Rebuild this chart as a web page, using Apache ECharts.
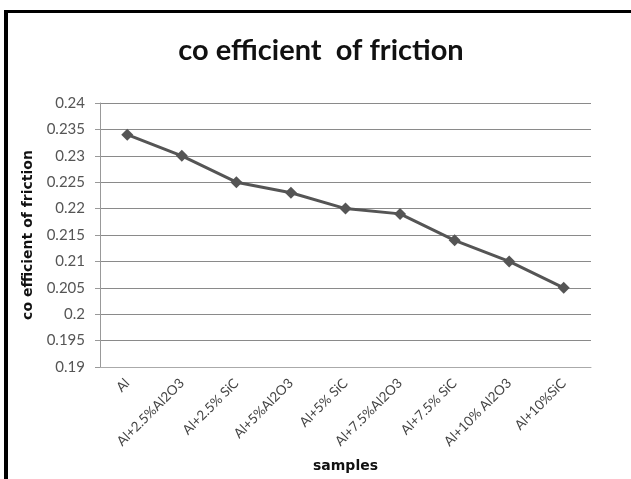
<!DOCTYPE html>
<html><head><meta charset="utf-8">
<script src="https://cdn.jsdelivr.net/npm/echarts@6/dist/echarts.min.js"></script>
<style>html,body{margin:0;padding:0;background:#fff}#c{width:631px;height:479px}</style>
</head><body><div id="c"></div>
<script>
const categories = ['Al','Al+2.5%Al2O3','Al+2.5% SiC','Al+5%Al2O3','Al+5% SiC','Al+7.5%Al2O3','Al+7.5% SiC','Al+10% Al2O3','Al+10%SiC'];
const friction = [0.234, 0.230, 0.225, 0.223, 0.220, 0.219, 0.214, 0.210, 0.205];
const titleText = 'co efficient  of friction';
const yName = 'co efficient of friction';
const xName = 'samples';
const F = 'Lato, "Open Sans", sans-serif';
const chart = echarts.init(document.getElementById('c'), null, {renderer:'canvas'});
chart.setOption({
  animation:false,
  backgroundColor:'#fff',
  title:{text:titleText,left:316,textAlign:'center',top:31,textStyle:{fontFamily:F,fontSize:29,fontWeight:'bold',color:'#111'}},
  graphic:[
    {type:'rect',shape:{x:4,y:10,width:640,height:3},style:{fill:'#000'}},
    {type:'rect',shape:{x:4,y:10,width:4,height:480},style:{fill:'#000'}}
  ],
  grid:{left:100,top:103,width:491,height:264,containLabel:false},
  xAxis:{type:'category',data:categories,boundaryGap:true,
    name:xName,nameLocation:'middle',nameGap:92,
    nameTextStyle:{fontFamily:'"DejaVu Sans", sans-serif',fontSize:14,fontWeight:'bold',color:'#111'},
    axisLine:{lineStyle:{color:'#aaa',width:1}},axisTick:{show:false},
    axisLabel:{rotate:45,interval:0,fontFamily:F,fontSize:13.5,color:'#444',margin:14}},
  yAxis:{type:'value',min:0.19,max:0.24,interval:0.005,
    name:yName,nameLocation:'middle',nameGap:62,
    nameTextStyle:{fontFamily:'"DejaVu Sans", sans-serif',fontSize:14,fontWeight:'bold',color:'#111'},
    axisLine:{show:true,lineStyle:{color:'#999'}},
    axisTick:{show:true,length:5,inside:false,lineStyle:{color:'#999'}},
    axisLabel:{fontFamily:F,fontSize:15,color:'#555',margin:15,formatter:v=>String(+v.toFixed(3))},
    splitLine:{lineStyle:{color:'#8a8a8a',width:1}}},
  series:[{type:'line',data:friction,symbol:'diamond',symbolSize:12,
    lineStyle:{color:'#555',width:3},itemStyle:{color:'#555'}}]
});
</script></body></html>
